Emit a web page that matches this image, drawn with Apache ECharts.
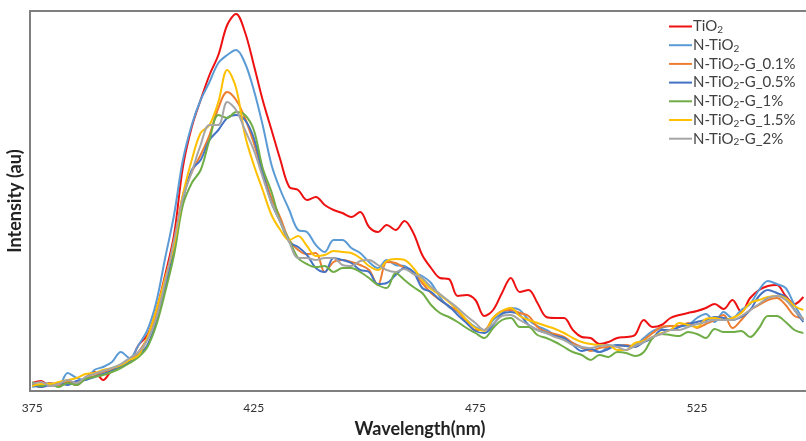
<!DOCTYPE html>
<html><head><meta charset="utf-8">
<script src="https://cdn.jsdelivr.net/npm/echarts@6/dist/echarts.min.js"></script>
<style>html,body{margin:0;padding:0;background:#fff;}#c{width:806px;height:441px;}</style>
</head><body><div id="c"></div>
<script>
const wavelengths = [375,377,379,381,383,385,387,389,391,393,395,397,399,401,403,405,407,409,411,413,415,417,419,421,423,425,427,429,431,433,435,437,439,441,443,445,447,449,451,453,455,457,459,461,463,465,467,469,471,473,475,477,479,481,483,485,487,489,491,493,495,497,499,501,503,505,507,509,511,513,515,517,519,521,523,525,527,529,531,533,535,537,539,541,543,545,547,549];
const tickLabels = [375,425,475,525];
const seriesNames = ['TiO2','N-TiO2','N-TiO2-G_0.1%','N-TiO2-G_0.5%','N-TiO2-G_1%','N-TiO2-G_1.5%','N-TiO2-G_2%'];
const tio2 = [8,10,5,7,9,6,13,19,11,21, 25,29,46,56,81,116,156,224,264,291, 316,336,366,377,359,326,291,261,231,204, 201,191,194,186,181,178,174,179,164,159, 166,161,170,158,136,123,113,112,95,96, 91,75,81,98,113,99,101,88,74,73, 73,61,54,53,47,49,53,54,56,71, 64,66,73,76,78,80,83,87,82,91, 79,93,101,105,106,95,87,94];
const nTio2 = [4,6,8,6,18,13,11,21,24,29, 39,33,46,61,89,133,176,231,266,291, 309,328,336,341,328,301,266,226,201,181, 161,159,146,139,151,151,143,138,129,123, 131,126,125,119,115,108,94,84,79,71, 64,61,71,78,83,81,71,65,61,56, 52,48,43,41,39,44,46,45,46,53, 60,63,65,65,66,73,77,69,79,73, 81,87,101,110,107,103,86,71];
const g01 = [7,4,8,5,10,7,13,15,19,21, 26,29,39,53,76,106,146,196,219,236, 256,283,299,291,273,248,219,193,173,151, 141,137,138,119,129,131,129,126,121,106, 129,128,123,118,108,98,91,85,80,69, 61,61,73,80,81,78,75,64,59,57, 54,48,44,40,43,44,45,46,44,51, 58,64,65,65,68,63,67,71,76,63, 71,81,86,91,93,86,75,73];
const g05 = [6,4,6,8,6,10,11,14,17,20, 25,29,36,46,69,103,141,191,221,231, 251,261,273,276,271,253,218,188,169,149, 144,136,123,119,133,131,128,121,119,107, 108,116,123,119,103,99,91,85,76,68, 60,58,66,77,79,76,66,61,58,55, 53,46,40,42,39,42,46,45,44,49, 53,61,61,64,67,69,71,74,73,71, 74,81,95,101,98,94,81,69];
const g1 = [9,5,7,4,8,6,12,14,16,19, 23,28,34,44,66,99,136,186,208,221, 251,276,273,279,276,261,223,199,169,151, 133,127,124,125,119,123,123,119,113,106, 103,118,111,104,98,86,78,74,69,63, 58,53,63,71,73,64,64,56,53,49, 44,39,36,31,36,34,39,38,35,39, 53,57,56,55,59,57,53,62,59,59, 60,54,63,75,75,69,61,58];
const g15 = [5,7,7,9,11,13,17,18,21,23, 26,31,36,54,81,113,146,196,231,258, 266,289,321,303,256,226,201,176,161,151, 155,145,135,136,140,139,138,133,125,121, 130,132,131,123,111,102,96,89,81,71, 63,60,73,80,83,75,71,68,65,62, 58,53,49,47,46,46,41,41,48,50, 54,58,61,68,66,64,72,73,71,73, 78,88,91,94,95,93,85,81];
const g2 = [7,9,5,7,11,8,14,17,20,23, 27,33,39,51,73,109,151,193,219,246, 266,266,289,281,261,241,214,188,169,149, 133,133,131,133,133,126,125,130,131,126, 121,119,122,117,113,104,97,90,83,75, 68,61,67,75,76,71,66,61,58,54, 51,46,44,43,45,46,44,41,45,49, 54,57,61,61,64,67,69,71,71,71, 75,81,87,93,95,91,81,71];
const seriesValues = [tio2, nTio2, g01, g05, g1, g15, g2];
const colors = ['#EE1111','#5B9BD5','#ED7D31','#4472C4','#70AD47','#FFC000','#A5A5A5'];

const FONT = 'Lato, "Open Sans", sans-serif';
const chart = echarts.init(document.getElementById('c'), null, {renderer:'canvas'});
const series = seriesNames.map((n,i)=>({
  name:n, type:'line', showSymbol:false, smooth:0.35,
  data: wavelengths.map((w,j)=>[w, seriesValues[i][j]]),
  lineStyle:{width:2, color:colors[i]}, itemStyle:{color:colors[i]},
  emphasis:{disabled:true}
}));
chart.setOption({
  animation:false,
  grid:{left:30, top:11, width:780, height:380, outerBoundsMode:'none', containLabel:false,
        show:true, borderColor:'#7f7f7f', borderWidth:2, backgroundColor:'#fff'},
  legend:{
    orient:'vertical', left:664, top:13, icon:'rect', itemWidth:23, itemHeight:2, itemGap:1.7,
    data:seriesNames,
    formatter: n => n.replace('TiO2','TiO{sub|2}'),
    textStyle:{fontFamily:FONT, fontSize:15, color:'#404040', lineHeight:17, padding:[0,0,0,-4],
      rich:{sub:{fontFamily:FONT, fontSize:10, color:'#404040', verticalAlign:'bottom', padding:[7,0,0,0]}}}
  },
  xAxis:{
    type:'value', min:374.5, max:550.5,
    name:'Wavelength(nm)', nameLocation:'middle', nameGap:29,
    nameTextStyle:{fontFamily:FONT, fontSize:18, fontWeight:'bold', color:'#222'},
    axisLine:{show:true, onZero:false, lineStyle:{color:'#7f7f7f', width:2}},
    axisTick:{show:false}, splitLine:{show:false},
    axisLabel:{customValues:tickLabels, fontFamily:FONT, fontSize:12, color:'#333', margin:11}
  },
  yAxis:{
    type:'value', min:0, max:380,
    name:'Intensity (au)', nameLocation:'middle', nameGap:6, nameRotate:90,
    nameTextStyle:{fontFamily:FONT, fontSize:18, fontWeight:'bold', color:'#222'},
    axisLine:{show:true, lineStyle:{color:'#7f7f7f', width:2}},
    axisTick:{show:false}, axisLabel:{show:false}, splitLine:{show:false}
  },
  series
});
</script></body></html>
